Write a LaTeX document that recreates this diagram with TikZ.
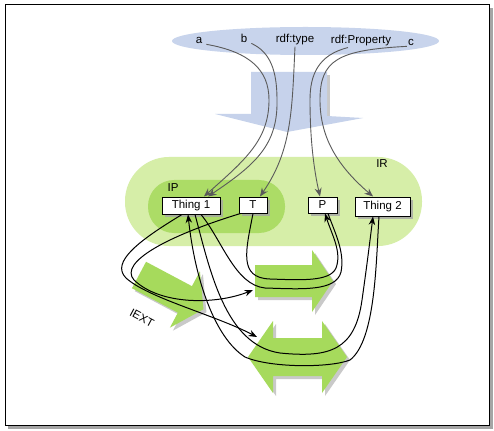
\documentclass[tikz,border=0pt]{standalone}
\usepackage{fontspec}
\setmainfont{Liberation Sans}
\usetikzlibrary{arrows.meta,shadows,calc}
\definecolor{ellblue}{RGB}{200,212,236}
\definecolor{arrblue}{RGB}{198,210,235}
\definecolor{irgreen}{RGB}{214,238,168}
\definecolor{ipgreen}{RGB}{172,220,102}
\definecolor{arrgreen}{RGB}{166,218,92}
\definecolor{shadowgray}{RGB}{165,165,165}
\definecolor{linkgray}{RGB}{90,90,90}
\tikzset{
  box/.style={draw=black, line width=1pt, fill=white, inner sep=0pt, minimum height=17pt,
    font=\fontsize{11.5}{13}\selectfont,
    drop shadow={shadow xshift=2.5pt, shadow yshift=-2.5pt, fill=shadowgray, opacity=0.8}},
  lbl/.style={inner sep=1pt, font=\fontsize{11.5}{13}\selectfont},
  graylink/.style={draw=linkgray, line width=0.9pt, -{Stealth[length=8.5pt,width=7pt]}},
  blacklink/.style={draw=black, line width=1pt, -{Stealth[length=8.5pt,width=6.5pt]}},
  plainlink/.style={draw=black, line width=1pt},
  greenarrow/.style={fill=arrgreen, draw=none},
  arrowshadow/.style={fill=shadowgray, opacity=0.6, draw=none},
}
\begin{document}
\begin{tikzpicture}[x=1pt,y=-1pt]
\useasboundingbox (0,0) rectangle (494,430);
% frame
\fill[shadowgray] (8,8) rectangle (492.5,429);
\draw[fill=white, line width=1pt] (5,5) rectangle (489.5,425.5);
% blue ellipse
\fill[ellblue] (305.5,41) ellipse [x radius=133.5pt, y radius=14pt];
% blue arrow
\fill[shadowgray, opacity=0.6] (327,75) -- (330,75) -- (330,118) -- (327,118) -- cycle;
\fill[arrblue] (251,72) -- (327,72) -- (327,116) -- (363,118) -- (287,132) -- (215,114) -- (251,114) -- cycle;
% IR / IP
\fill[irgreen, rounded corners=44pt] (125,157) rectangle (422,246);
\fill[ipgreen, rounded corners=26pt] (148,180) rectangle (285,233);
\node[lbl] (ir) at (382,164) {IR};
\node[lbl] (ip) at (173,188) {IP};
% IEXT arrow
\begin{scope}[shift={(142,278)}, rotate=-28]
  \fill[arrowshadow] (0,-15) -- (52,-15) -- (52,-32) -- (73,0) -- (52,32) -- (52,15) -- (0,15) -- cycle;
\end{scope}
\begin{scope}[shift={(139,275)}, rotate=-28]
  \fill[greenarrow] (0,-15) -- (52,-15) -- (52,-32) -- (73,0) -- (52,32) -- (52,15) -- (0,15) -- cycle;
\end{scope}
\node[lbl, rotate=-28] (iext) at (142,318) {IEXT};
% right arrow
\begin{scope}[shift={(3,3)}]
  \fill[arrowshadow] (255,265) -- (312,265) -- (312,250) -- (333,281) -- (312,312) -- (312,297) -- (255,297) -- cycle;
\end{scope}
\fill[greenarrow] (255,265) -- (312,265) -- (312,250) -- (333,281) -- (312,312) -- (312,297) -- (255,297) -- cycle;
% double arrow
\begin{scope}[shift={(3,3)}]
  \fill[arrowshadow] (248,357) -- (273,321) -- (273,338) -- (322,338) -- (322,321) -- (347,357) -- (322,393) -- (322,376) -- (273,376) -- (273,393) -- cycle;
\end{scope}
\fill[greenarrow] (248,357) -- (273,321) -- (273,338) -- (322,338) -- (322,321) -- (347,357) -- (322,393) -- (322,376) -- (273,376) -- (273,393) -- cycle;
\coordinate (a2) at (253,290);
\coordinate (dA) at (257,337);
% boxes
\node[box, minimum width=58pt] (t1) at (191,205.5) {Thing 1};
\node[box, minimum width=28pt, minimum height=16pt] (T) at (253,205) {T};
\node[box, minimum width=29pt, minimum height=16pt] (P) at (322.5,205) {P};
\node[box, minimum width=55pt, minimum height=19pt] (t2) at (382.5,206.5) {Thing 2};
% top labels
\node[lbl] (la) at (199,40) {a};
\node[lbl] (lb) at (244,38) {b};
\node[lbl] (lt) at (295,40) {rdf:type};
\node[lbl] (lp) at (361,41) {rdf:Property};
\node[lbl] (lc) at (411,42) {c};
% gray links
\draw[graylink] ([xshift=3pt]la.south east) .. controls (250,52) and (269,70) .. (269,100)
   .. controls (269,140) and (245,160) .. ([xshift=13pt]t1.north);
\draw[graylink] ([xshift=3pt]lb.south east) .. controls (270,52) and (277,70) .. (277,100)
   .. controls (278,145) and (255,165) .. ([xshift=17pt]t1.north);
\draw[graylink] (lt.south) .. controls (292,110) and (292,150) .. ([xshift=7pt]T.north);
\draw[graylink] ([xshift=-13pt]lp.south) .. controls (318,55) and (310,75) .. (310,100)
   .. controls (310,140) and (314,170) .. ([xshift=-2.5pt]P.north);
\draw[graylink] (lc.south west) .. controls (338,50) and (320,60) .. (320,100)
   .. controls (320,140) and (340,168) .. ([xshift=-9.5pt]t2.north);
% black links
\draw[blacklink] ([xshift=-9pt]t1.south) .. controls (140,240) and (110,262) .. (126,278)
   .. controls (148,298) and (215,315) .. (dA);
\draw[blacklink] ([xshift=2pt]T.south west) .. controls (170,235) and (118,262) .. (134,280)
   .. controls (160,305) and (215,305) .. (a2);
\draw[blacklink] (T.south) .. controls (246,250) and (238,278) .. (270,279)
   .. controls (300,280) and (330,282) .. (336,268)
   .. controls (342,252) and (332,235) .. ([xshift=2.5pt]P.south);
\draw[plainlink] ([xshift=10pt]t1.south) .. controls (222,240) and (235,285) .. (265,288)
   .. controls (300,289) and (336,292) .. (341,272)
   .. controls (345,252) and (335,233) .. ([xshift=5.5pt]P.south);
\draw[blacklink] ([xshift=4pt]t1.south) .. controls (210,270) and (225,345) .. (280,353)
   .. controls (330,358) and (355,350) .. (362,300)
   .. controls (367,265) and (370,240) .. ([xshift=-9.5pt]t2.south);
\draw[blacklink] ([xshift=-3.5pt]t2.south) .. controls (376,260) and (376,340) .. (350,360)
   .. controls (330,368) and (270,368) .. (245,357)
   .. controls (215,338) and (195,280) .. ([xshift=-3pt]t1.south);
\end{tikzpicture}
\end{document}
